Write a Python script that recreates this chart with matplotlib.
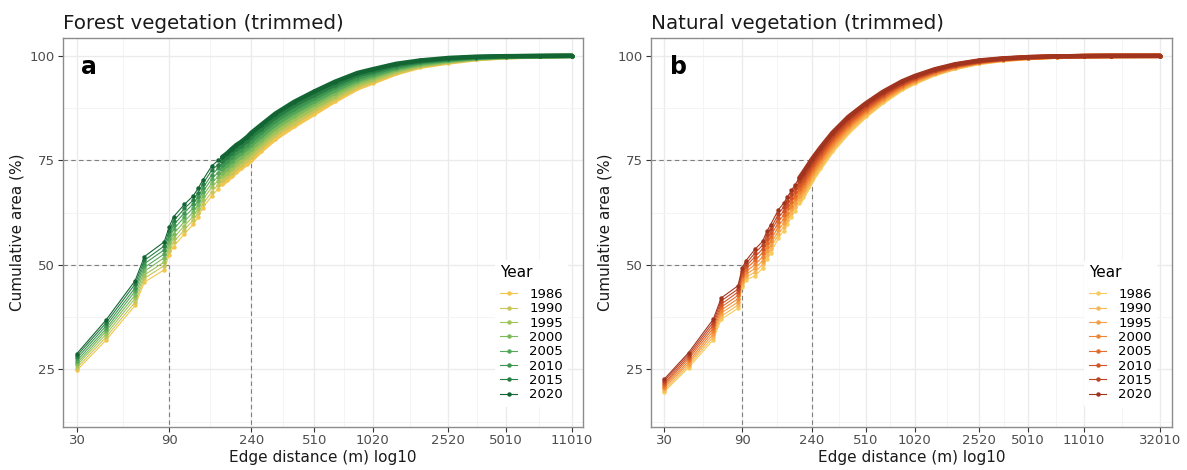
import matplotlib.pyplot as plt
from matplotlib.ticker import FixedLocator, NullFormatter
import numpy as np

years = ['1986', '1990', '1995', '2000', '2005', '2010', '2015', '2020']

# edge distance (m) at which the cumulative area is sampled
dist_forest = [30, 42.4, 60, 67.1, 84.9, 90, 94.9, 108.2, 120, 127.3, 134.2, 150, 161.6, 169.7,
               180, 189.7, 201.2, 212.1, 228.5, 240, 270, 320, 400, 510, 650, 850, 1020, 1350,
               1800, 2520, 3500, 5010, 7500, 11010]
dist_natural = dist_forest + [16000, 32010]

# cumulative area (%) of forest vegetation, one list per year
forest = {
    '1986': [24.8, 32.0, 40.3, 45.9, 48.8, 52.4, 54.4, 57.4, 59.7, 61.4, 63.6, 66.5, 68.2, 69.3,
             70.3, 71.2, 72.3, 73.1, 74.2, 75.0, 77.3, 80.2, 83.2, 86.2, 89.2, 92.2, 93.6, 95.8,
             97.4, 98.4, 99.2, 99.65, 99.9, 100],
    '1990': [25.4, 32.7, 41.1, 46.8, 49.8, 53.3, 55.4, 58.4, 60.7, 62.4, 64.5, 67.5, 69.2, 70.2,
             71.2, 72.1, 73.2, 74.0, 75.1, 75.9, 78.2, 81.1, 84.0, 87.0, 89.9, 92.7, 94.1, 96.1,
             97.6, 98.6, 99.3, 99.7, 99.9, 100],
    '1995': [26.0, 33.4, 42.0, 47.6, 50.7, 54.3, 56.4, 59.4, 61.6, 63.4, 65.5, 68.6, 70.1, 71.2,
             72.1, 73.1, 74.1, 74.9, 76.0, 76.9, 79.1, 81.9, 84.9, 87.7, 90.5, 93.3, 94.5, 96.5,
             97.8, 98.7, 99.4, 99.7, 99.9, 100],
    '2000': [26.5, 34.1, 42.8, 48.5, 51.7, 55.2, 57.4, 60.4, 62.6, 64.4, 66.4, 69.6, 71.1, 72.1,
             73.0, 74.0, 75.0, 75.8, 76.9, 77.8, 79.9, 82.8, 85.7, 88.5, 91.2, 93.8, 95.0, 96.8,
             98.0, 98.9, 99.5, 99.8, 99.9, 100],
    '2005': [27.1, 34.7, 43.7, 49.4, 52.6, 56.2, 58.5, 61.5, 63.6, 65.3, 67.4, 70.6, 72.1, 73.0,
             74.0, 74.9, 76.0, 76.7, 77.9, 78.8, 80.8, 83.6, 86.5, 89.2, 91.8, 94.3, 95.4, 97.1,
             98.3, 99.0, 99.5, 99.8, 99.95, 100],
    '2010': [27.7, 35.4, 44.5, 50.3, 53.6, 57.1, 59.5, 62.5, 64.6, 66.3, 68.3, 71.6, 73.1, 73.9,
             74.9, 75.8, 76.9, 77.6, 78.8, 79.7, 81.7, 84.5, 87.3, 90.0, 92.5, 94.8, 95.9, 97.4,
             98.5, 99.2, 99.6, 99.9, 99.95, 100],
    '2015': [28.3, 36.1, 45.4, 51.1, 54.5, 58.1, 60.5, 63.5, 65.5, 67.3, 69.3, 72.7, 74.0, 74.9,
             75.8, 76.8, 77.8, 78.5, 79.7, 80.7, 82.6, 85.3, 88.2, 90.7, 93.1, 95.4, 96.3, 97.8,
             98.7, 99.3, 99.7, 99.9, 99.97, 100],
    '2020': [28.8, 36.8, 46.2, 52.0, 55.5, 59.0, 61.5, 64.5, 66.5, 68.3, 70.2, 73.7, 75.0, 75.8,
             76.7, 77.7, 78.7, 79.4, 80.6, 81.6, 83.5, 86.2, 89.0, 91.5, 93.8, 95.9, 96.8, 98.1,
             98.9, 99.5, 99.8, 99.93, 99.98, 100],
}

# cumulative area (%) of natural vegetation, one list per year
natural = {
    '1986': [19.6, 25.4, 32.1, 37.0, 39.6, 44.7, 46.4, 47.4, 49.2, 51.4, 52.8, 56.4, 58.2, 59.8,
             61.5, 63.0, 64.8, 66.3, 68.6, 70.2, 73.2, 77.3, 81.7, 85.6, 88.9, 92.0, 93.6, 95.6,
             97.1, 98.3, 99.0, 99.5, 99.8, 99.93, 99.98, 100],
    '1990': [20.0, 25.9, 32.8, 37.7, 40.4, 45.3, 47.1, 48.3, 50.1, 52.3, 53.8, 57.4, 59.1, 60.7,
             62.4, 63.9, 65.7, 67.1, 69.4, 70.9, 73.9, 77.9, 82.2, 86.0, 89.3, 92.3, 93.8, 95.8,
             97.2, 98.4, 99.1, 99.5, 99.8, 99.93, 99.98, 100],
    '1995': [20.5, 26.4, 33.5, 38.5, 41.1, 46.0, 47.7, 49.2, 51.0, 53.3, 54.7, 58.3, 60.1, 61.6,
             63.3, 64.8, 66.5, 68.0, 70.1, 71.7, 74.6, 78.5, 82.8, 86.5, 89.6, 92.5, 94.1, 95.9,
             97.4, 98.5, 99.1, 99.55, 99.82, 99.94, 99.98, 100],
    '2000': [20.9, 26.9, 34.2, 39.2, 41.9, 46.6, 48.4, 50.1, 51.9, 54.2, 55.7, 59.3, 61.0, 62.5,
             64.2, 65.7, 67.4, 68.8, 70.9, 72.4, 75.3, 79.1, 83.3, 86.9, 90.0, 92.8, 94.3, 96.1,
             97.5, 98.6, 99.2, 99.6, 99.84, 99.94, 99.98, 100],
    '2005': [21.3, 27.5, 34.9, 39.9, 42.7, 47.3, 49.0, 51.1, 52.9, 55.2, 56.7, 60.3, 62.0, 63.5,
             65.1, 66.5, 68.2, 69.6, 71.7, 73.1, 75.9, 79.8, 83.8, 87.3, 90.3, 93.1, 94.5, 96.3,
             97.6, 98.6, 99.2, 99.6, 99.85, 99.95, 99.99, 100],
    '2010': [21.7, 28.0, 35.6, 40.6, 43.5, 47.9, 49.7, 52.0, 53.8, 56.1, 57.7, 61.3, 62.9, 64.4,
             66.0, 67.4, 69.1, 70.4, 72.5, 73.8, 76.6, 80.4, 84.3, 87.7, 90.7, 93.4, 94.7, 96.5,
             97.7, 98.7, 99.3, 99.65, 99.86, 99.95, 99.99, 100],
    '2015': [22.2, 28.5, 36.3, 41.4, 44.2, 48.6, 50.3, 52.9, 54.7, 57.1, 58.6, 62.2, 63.9, 65.3,
             66.9, 68.3, 70.0, 71.3, 73.2, 74.6, 77.3, 81.0, 84.9, 88.2, 91.0, 93.6, 95.0, 96.6,
             97.9, 98.8, 99.3, 99.7, 99.87, 99.96, 99.99, 100],
    '2020': [22.6, 29.0, 37.0, 42.1, 45.0, 49.2, 51.0, 53.8, 55.6, 58.0, 59.6, 63.2, 64.8, 66.2,
             67.8, 69.2, 70.8, 72.1, 74.0, 75.3, 78.0, 81.6, 85.4, 88.6, 91.4, 93.9, 95.2, 96.8,
             98.0, 98.9, 99.4, 99.7, 99.88, 99.96, 99.99, 100],
}

greens = ['#F2C64C', '#C9C55A', '#A0C45A', '#7CB85C', '#55A85A', '#3D9550', '#287D43', '#136634']
oranges = ['#F8CC5C', '#F7B756', '#F59E43', '#F08632', '#E56B2A', '#D35427', '#BC4324', '#A1341F']

breaks_forest = [30, 90, 240, 510, 1020, 2520, 5010, 11010]
breaks_natural = [30, 90, 240, 510, 1020, 2520, 5010, 11010, 32010]

plt.rcParams['font.family'] = 'DejaVu Sans'

fig = plt.figure(figsize=(11.87, 4.70), dpi=100)
ax1 = fig.add_axes([0.0528, 0.0921, 0.4384, 0.8264])
ax2 = fig.add_axes([0.5484, 0.0921, 0.4390, 0.8264])


def mid_breaks(br, lo, hi):
    lb = np.log10(br)
    step0 = lb[1] - lb[0]
    step1 = lb[-1] - lb[-2]
    ext = np.concatenate([[lb[0] - step0], lb, [lb[-1] + step1]])
    mids = 10 ** ((ext[:-1] + ext[1:]) / 2)
    return [m for m in mids if lo < m < hi]


def draw_panel(ax, dist, table, colors, breaks, xlim, title, tag, dense_from):
    dist = np.array(dist)
    handles = []
    for yr, c in zip(years, colors):
        vals = np.array(table[yr])
        h, = ax.plot(dist, vals, '-o', color=c, lw=0.8, ms=3.2, mew=0, zorder=3)
        # past this distance the points overlap into a solid band
        dense = dist >= dense_from
        ax.plot(dist[dense], vals[dense], '-', color=c, lw=3.2,
                solid_capstyle='round', solid_joinstyle='round', zorder=3)
        handles.append(h)

    ax.set_xscale('log')
    ax.set_xlim(*xlim)
    ax.set_ylim(11.3, 104.2)

    ax.xaxis.set_major_locator(FixedLocator(breaks))
    ax.xaxis.set_minor_locator(FixedLocator(mid_breaks(breaks, *xlim)))
    ax.xaxis.set_minor_formatter(NullFormatter())
    ax.set_xticklabels([str(b) for b in breaks])
    ax.set_yticks([25, 50, 75, 100])
    ax.set_yticks([12.5, 37.5, 62.5, 87.5], minor=True)

    ax.grid(which='major', color='#EBEBEB', lw=1.0, zorder=0)
    ax.grid(which='minor', color='#F3F3F3', lw=0.6, zorder=0)
    ax.set_axisbelow(True)
    ax.tick_params(which='major', length=3.5, width=0.8, color='#333333',
                   labelsize=9.5, labelcolor='#4D4D4D', pad=2)
    ax.tick_params(which='minor', length=0)
    for s in ax.spines.values():
        s.set_color('#8C8C8C')
        s.set_linewidth(1.0)

    # reference levels: 50 % at 90 m and 75 % at 240 m
    ax.plot([xlim[0], 90], [50, 50], ls=(0, (4, 3)), color='#7F7F7F', lw=0.8, zorder=2)
    ax.plot([90, 90], [0, 50], ls=(0, (4, 3)), color='#7F7F7F', lw=0.8, zorder=2)
    ax.plot([xlim[0], 240], [75, 75], ls=(0, (4, 3)), color='#7F7F7F', lw=0.8, zorder=2)
    ax.plot([240, 240], [0, 75], ls=(0, (4, 3)), color='#7F7F7F', lw=0.8, zorder=2)

    ax.set_xlabel('Edge distance (m) log10', fontsize=11, color='#1A1A1A', labelpad=2)
    ax.set_ylabel('Cumulative area (%)', fontsize=11, color='#1A1A1A', labelpad=4)
    ax.set_title(title, loc='left', fontsize=14.3, color='#1A1A1A', pad=7)
    ax.text(0.036, 0.925, tag, transform=ax.transAxes, fontsize=17, fontweight='bold',
            va='center', ha='left')

    leg = ax.legend(handles, years, title='Year', loc='lower left',
                    bbox_to_anchor=(0.818, 0.035), frameon=True, facecolor='white',
                    edgecolor='none', framealpha=1, fontsize=9.5, title_fontsize=11,
                    handlelength=1.3, handletextpad=0.9, labelspacing=0.1,
                    alignment='left', borderpad=0.4)
    leg._legend_box.sep = 5.5
    leg.set_zorder(5)


draw_panel(ax1, dist_forest, forest, greens, breaks_forest, (25.3, 12560),
           'Forest vegetation (trimmed)', 'a', 169.7)
draw_panel(ax2, dist_natural, natural, oranges, breaks_natural, (25.0, 37860),
           'Natural vegetation (trimmed)', 'b', 201.2)

fig.savefig('out.png', dpi=100)
